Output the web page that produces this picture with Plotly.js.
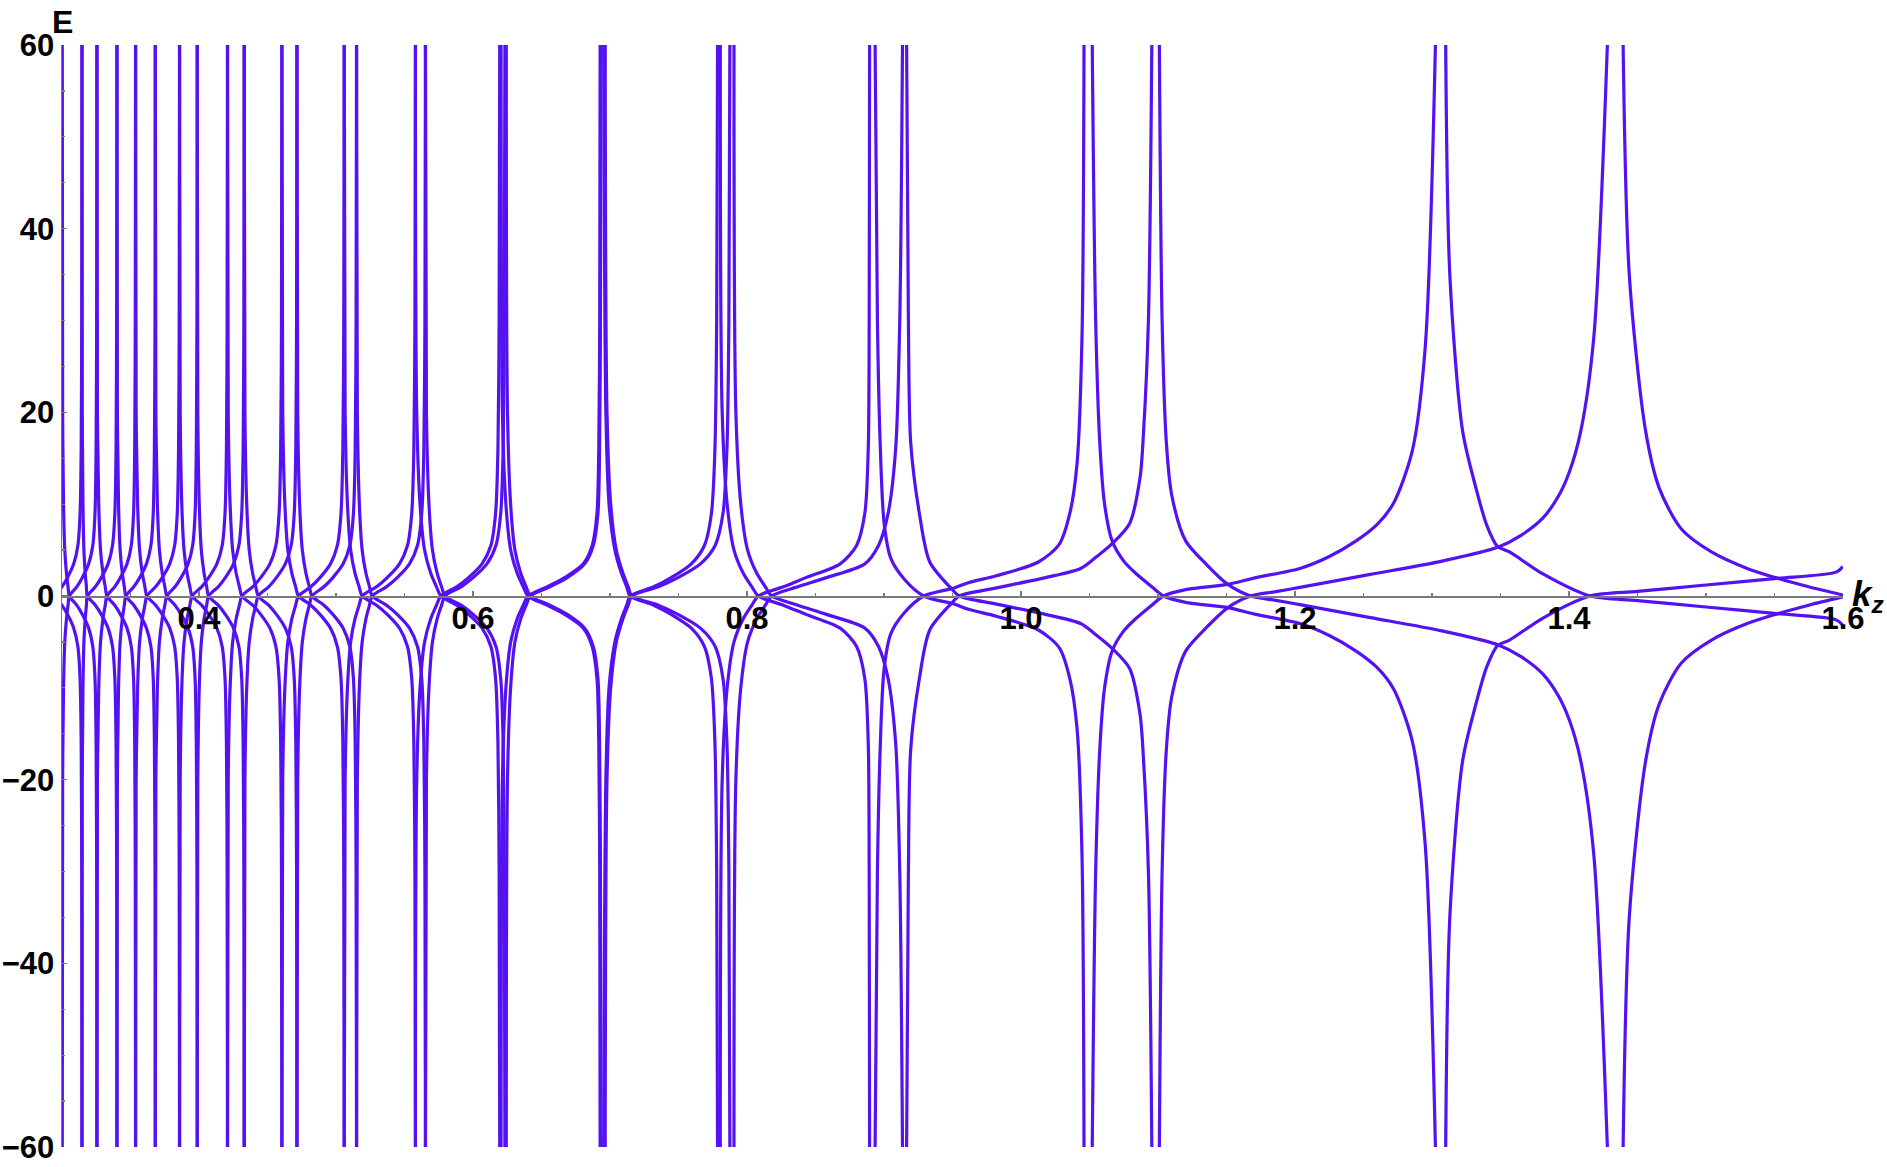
<!DOCTYPE html>
<html>
<head>
    <meta charset="utf-8">
    <script src="https://cdn.plot.ly/plotly-3.0.1.min.js"></script>
    <style>
        html, body { margin: 0; padding: 0; background: white; }
    </style>
</head>
<body>
    <div id="myDiv" style="width: 1887px; height: 1167px;"></div>
    <script>
        // E values at which the k position of a branch was read off the picture
        // (a branch falls from +60 at one pole, crosses E = 0 and goes down to -60 at the next pole)
        var eLevels = [60, 20, 10, 5, 2.5, 1, 0, -1, -2, -3.5, -5.5, -9, -16, -30, -60];

        // family A branches (k read at the E levels above)
        var kA0 = [0.3002, 0.30046, 0.30112, 0.30204, 0.30326, 0.30443, 0.3053, 0.31075, 0.31479, 0.31944, 0.32247, 0.32409, 0.32489, 0.3253, 0.3255];
        var kA1 = [0.3255, 0.32587, 0.32681, 0.32813, 0.32988, 0.33156, 0.3328, 0.33844, 0.34262, 0.34743, 0.35057, 0.35224, 0.35307, 0.35349, 0.3537];
        var kA2 = [0.3537, 0.35411, 0.35518, 0.35665, 0.35862, 0.36051, 0.3619, 0.36835, 0.37313, 0.37863, 0.38222, 0.38413, 0.38508, 0.38556, 0.3858];
        var kA3 = [0.3858, 0.38626, 0.38744, 0.38908, 0.39126, 0.39335, 0.3949, 0.40189, 0.40707, 0.41303, 0.41692, 0.41899, 0.42002, 0.42054, 0.4208];
        var kA4 = [0.4208, 0.42133, 0.42269, 0.42458, 0.4271, 0.42952, 0.4313, 0.43918, 0.44502, 0.45174, 0.45612, 0.45846, 0.45962, 0.46021, 0.4605];
        var kA5 = [0.4605, 0.46111, 0.46268, 0.46486, 0.46776, 0.47054, 0.4726, 0.48162, 0.4883, 0.49598, 0.50099, 0.50366, 0.505, 0.50567, 0.5060];
        var kA6 = [0.5060, 0.50666, 0.50836, 0.51072, 0.51386, 0.51687, 0.5191, 0.5296, 0.53738, 0.54633, 0.55217, 0.55528, 0.55683, 0.55761, 0.5580];
        var kA7 = [0.5580, 0.55893, 0.56133, 0.56466, 0.5691, 0.57336, 0.5765, 0.58811, 0.59671, 0.6066, 0.61305, 0.61649, 0.61821, 0.61907, 0.6195];
        var kA8 = [0.6205, 0.62148, 0.62401, 0.62752, 0.6322, 0.63669, 0.6400, 0.6540, 0.6670, 0.6805, 0.6870, 0.6905, 0.6918, 0.6925, 0.6928];
        var kA9 = [0.6955, 0.6970, 0.6993, 0.7036, 0.7083, 0.7122, 0.7147, 0.73193, 0.74469, 0.75936, 0.76893, 0.77403, 0.77659, 0.77786, 0.7785];
        var kA10 = [0.7805, 0.78189, 0.7855, 0.79051, 0.79718, 0.80357, 0.8083, 0.8265, 0.8430, 0.8680, 0.8800, 0.8860, 0.8885, 0.8892, 0.8895];
        // wider branches on the right, read at their own E values
        var kA11 = [0.8935, 0.8952, 0.8972, 0.9001, 0.905, 0.915, 0.929, 0.9513, 0.9616, 0.982, 1.0127, 1.028, 1.0358, 1.0409, 1.0445, 1.046];
        var eA11 = [60, 30, 16.7, 7.9, 4.1, 1.8, 0, -0.88, -1.45, -2.2, -3.7, -5.65, -9.1, -14.4, -28, -60];
        var kA12 = [1.052, 1.0545, 1.0575, 1.061, 1.0665, 1.075, 1.0835, 1.0955, 1.104, 1.1202, 1.136, 1.151, 1.1715, 1.2036, 1.225, 1.2446, 1.2600, 1.2719, 1.2856, 1.295, 1.3025];
        var eA12 = [60, 30, 16.7, 10, 6, 3.8, 2.5, 1, 0, -0.69, -1, -1.26, -2.0, -3.0, -4.3, -6.0, -7.8, -10.1, -15.8, -27, -60];
        var kA13 = [1.310, 1.313, 1.3224, 1.332, 1.340, 1.3478, 1.3566, 1.381, 1.4153, 1.45, 1.5, 1.55, 1.595, 1.6];
        var eA13 = [60, 35, 17.9, 11.8, 7.7, 5.4, 4.8, 2.4, 0, -0.5, -1.2, -1.9, -2.6, -3.2];

        // family B branches
        var kBm = [0.2891, 0.2894, 0.2901, 0.2911, 0.2924, 0.2936, 0.2945, 0.29993, 0.30395, 0.30857, 0.31159, 0.31319, 0.314, 0.3144, 0.3146];
        var kB0 = [0.3146, 0.3148, 0.3153, 0.3160, 0.31694, 0.31784, 0.3185, 0.32433, 0.32865, 0.33362, 0.33686, 0.33859, 0.33945, 0.33988, 0.3401];
        var kB1 = [0.3401, 0.34043, 0.34127, 0.34244, 0.344, 0.3455, 0.3466, 0.35241, 0.35671, 0.36165, 0.36488, 0.3666, 0.36746, 0.36789, 0.3681];
        var kB2 = [0.3681, 0.36852, 0.36961, 0.37112, 0.37314, 0.37507, 0.3765, 0.38249, 0.38693, 0.39204, 0.39537, 0.39715, 0.39803, 0.39848, 0.3987];
        var kB3 = [0.3987, 0.39912, 0.40019, 0.40169, 0.40368, 0.40559, 0.4070, 0.41402, 0.41922, 0.4252, 0.4291, 0.43118, 0.43222, 0.43274, 0.4330];
        var kB4 = [0.4330, 0.43351, 0.43484, 0.43667, 0.43912, 0.44147, 0.4432, 0.45084, 0.4565, 0.46301, 0.46726, 0.46952, 0.47065, 0.47122, 0.4715];
        var kB5 = [0.4715, 0.47205, 0.47346, 0.47542, 0.47804, 0.48055, 0.4824, 0.4912, 0.49772, 0.50522, 0.51011, 0.51272, 0.51402, 0.51467, 0.5150];
        var kB6 = [0.5150, 0.51557, 0.51705, 0.5191, 0.52184, 0.52446, 0.5264, 0.5369, 0.54468, 0.55363, 0.55947, 0.56258, 0.56413, 0.56491, 0.5653];
        var kB7 = [0.5653, 0.56601, 0.56786, 0.57041, 0.57382, 0.57709, 0.5795, 0.59133, 0.60009, 0.61016, 0.61673, 0.62023, 0.62199, 0.62286, 0.6233];
        var kB8 = [0.6243, 0.62518, 0.62745, 0.6306, 0.6348, 0.63883, 0.6418, 0.6560, 0.6688, 0.6815, 0.6878, 0.6912, 0.6924, 0.6930, 0.6935];
        var kB9 = [0.6965, 0.6978, 0.7005, 0.7046, 0.7094, 0.7133, 0.7159, 0.73523, 0.74955, 0.76602, 0.77676, 0.78249, 0.78535, 0.78678, 0.7875];
        var kB10 = [0.7905, 0.79188, 0.79547, 0.80044, 0.80706, 0.81341, 0.8181, 0.837, 0.858, 0.886, 0.896, 0.9030, 0.9085, 0.9115, 0.9135];
        var kB11 = [0.9165, 0.9178, 0.9195, 0.9257, 0.9334, 0.9487, 0.955, 0.982, 1.0178, 1.0435, 1.0537, 1.0665, 1.0793, 1.0869, 1.0895, 1.093, 1.0955];
        var eB11 = [60, 30, 16.7, 9.1, 3.7, 0.88, 0, -0.88, -2.0, -3.0, -4.1, -5.7, -7.9, -12.9, -18, -30, -60];
        var kB12 = [1.101, 1.103, 1.1061, 1.110, 1.1202, 1.1356, 1.151, 1.1676, 1.185, 1.2036, 1.255, 1.3074, 1.348, 1.365, 1.381, 1.392, 1.400, 1.4085, 1.418, 1.428];
        var eB12 = [60, 30, 16.7, 11, 6.0, 3.4, 1.26, 0, -0.45, -0.94, -2.35, -3.8, -5.3, -6.6, -8.5, -10.8, -13.4, -17.9, -28, -60];
        var kB13 = [1.4395, 1.444, 1.456, 1.466, 1.482, 1.504, 1.53, 1.5506, 1.575, 1.6];
        var eB13 = [60, 35, 17.9, 11.7, 7.3, 4.8, 3.0, 2.0, 1.0, 0.1];

        var xTickVals = [0.4, 0.6, 0.8, 1.0, 1.2, 1.4, 1.6];
        var yTickVals = [-60, -40, -20, 0, 20, 40, 60];

        var branches = [
            [kA0, eLevels], [kA1, eLevels], [kA2, eLevels], [kA3, eLevels], [kA4, eLevels],
            [kA5, eLevels], [kA6, eLevels], [kA7, eLevels], [kA8, eLevels], [kA9, eLevels],
            [kA10, eLevels], [kA11, eA11], [kA12, eA12], [kA13, eA13],
            [kBm, eLevels], [kB0, eLevels], [kB1, eLevels], [kB2, eLevels], [kB3, eLevels],
            [kB4, eLevels], [kB5, eLevels], [kB6, eLevels], [kB7, eLevels], [kB8, eLevels],
            [kB9, eLevels], [kB10, eLevels], [kB11, eB11], [kB12, eB12], [kB13, eB13]
        ];

        // every band comes with its mirror image -E
        var xs = [], ys = [];
        branches.forEach(function (b) {
            var k = b[0], e = b[1];
            for (var i = 0; i < k.length; i++) { xs.push(k[i]); ys.push(e[i]); }
            xs.push(null); ys.push(null);
            for (var j = 0; j < k.length; j++) { xs.push(k[j]); ys.push(-e[j]); }
            xs.push(null); ys.push(null);
        });

        var lineColor = 'rgb(84,18,242)';
        var axisColor = '#7a7a7a';
        var fontFamily = '"Liberation Sans", Arial, sans-serif';
        var tickFont = { family: fontFamily, size: 31, color: 'black', weight: 'bold' };

        var data = [{
            x: xs,
            y: ys,
            type: 'scatter',
            mode: 'lines',
            connectgaps: false,
            line: { color: lineColor, width: 3.2, shape: 'spline', smoothing: 0.8 },
            hoverinfo: 'skip'
        }];

        var layout = {
            width: 1887,
            height: 1167,
            margin: { l: 62, r: 44, t: 45, b: 20 },
            paper_bgcolor: 'white',
            plot_bgcolor: 'white',
            showlegend: false,
            xaxis: {
                range: [0.3, 1.6],
                anchor: 'free',
                position: 0.5,
                showgrid: false,
                zeroline: false,
                showline: true,
                linecolor: axisColor,
                linewidth: 1.5,
                ticks: 'inside',
                ticklen: 5,
                tickwidth: 1.2,
                tickcolor: axisColor,
                tickmode: 'array',
                tickvals: xTickVals,
                ticktext: xTickVals.map(function (v) { return v.toFixed(1); }),
                minor: { tickmode: 'linear', tick0: 0.3, dtick: 0.05, ticks: 'inside', ticklen: 3, tickcolor: axisColor, tickwidth: 1.2 },
                tickfont: tickFont,
                ticklabelstandoff: -6
            },
            yaxis: {
                range: [-60, 60],
                showgrid: false,
                zeroline: false,
                showline: true,
                linecolor: axisColor,
                linewidth: 1.5,
                ticks: 'inside',
                ticklen: 5,
                tickwidth: 1.2,
                tickcolor: axisColor,
                tickmode: 'array',
                tickvals: yTickVals,
                minor: { tickmode: 'linear', tick0: -60, dtick: 5, ticks: 'inside', ticklen: 3, tickcolor: axisColor, tickwidth: 1.2 },
                tickfont: tickFont,
                ticklabelstandoff: 0
            },
            annotations: [
                {
                    text: '<b>E</b>', xref: 'paper', yref: 'paper', x: 0, y: 1.021,
                    xanchor: 'center', yanchor: 'middle', showarrow: false,
                    font: { family: fontFamily, size: 32, color: 'black' }
                },
                {
                    text: '<b><i>k</i></b><sub><b><i>z</i></b></sub>', xref: 'paper', yref: 'paper', x: 1.004, y: 0.5,
                    xanchor: 'left', yanchor: 'middle', showarrow: false,
                    font: { family: fontFamily, size: 35, color: 'black' }
                }
            ]
        };

        var config = { displayModeBar: false, staticPlot: true };

        Plotly.newPlot('myDiv', data, layout, config);
    </script>
</body>
</html>
